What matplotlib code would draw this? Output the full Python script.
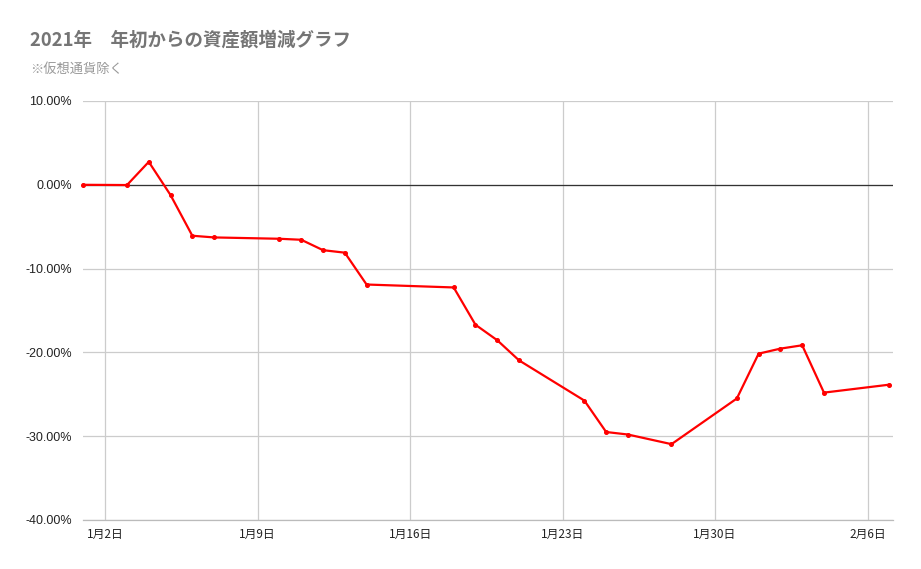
import matplotlib
matplotlib.use("Agg")
import matplotlib.pyplot as plt
import matplotlib.dates as mdates
from matplotlib.ticker import FuncFormatter, MultipleLocator
import datetime as dt

plt.rcParams['font.family'] = ['Liberation Sans', 'Noto Sans CJK JP', 'DejaVu Sans']

dates = ["2021-01-01", "2021-01-03", "2021-01-04", "2021-01-05", "2021-01-06",
         "2021-01-07", "2021-01-10", "2021-01-11", "2021-01-12", "2021-01-13",
         "2021-01-14", "2021-01-18", "2021-01-19", "2021-01-20", "2021-01-21",
         "2021-01-24", "2021-01-25", "2021-01-26", "2021-01-28", "2021-01-31",
         "2021-02-01", "2021-02-02", "2021-02-03", "2021-02-04", "2021-02-07"]
values = [0.00, -0.03, 2.74, -1.23, -6.08,
          -6.28, -6.44, -6.56, -7.80, -8.10,
          -11.90, -12.25, -16.70, -18.55, -20.95,
          -25.75, -29.50, -29.80, -30.95, -25.50,
          -20.15, -19.55, -19.15, -24.80, -23.85]
tick_dates = ["2021-01-02", "2021-01-09", "2021-01-16", "2021-01-23", "2021-01-30", "2021-02-06"]
tick_labels = ["1月2日", "1月9日", "1月16日", "1月23日", "1月30日", "2月6日"]

title = "2021年\u3000年初からの資産額増減グラフ"
subtitle = "※仮想通貨除く"

x = [dt.datetime.strptime(d, "%Y-%m-%d") for d in dates]
xt = [dt.datetime.strptime(d, "%Y-%m-%d") for d in tick_dates]

fig = plt.figure(figsize=(9.21, 5.69), dpi=100)
ax = fig.add_axes([83/921, 1-520/569, (893-83)/921, (520-101)/569])

ax.plot(x, values, color='#ff0000', linewidth=1.6, marker='o', markersize=2.6,
        zorder=3, clip_on=False)
ax.axhline(0, color='#333333', linewidth=0.9, zorder=2)

start = dt.datetime(2021, 1, 1)
ax.set_xlim(start - dt.timedelta(days=0.02), start + dt.timedelta(days=37.17))
ax.set_ylim(-40, 10)
ax.yaxis.set_major_locator(MultipleLocator(10))
ax.yaxis.set_major_formatter(FuncFormatter(lambda v, p: f"{v:.2f}%"))
ax.set_xticks(xt)
ax.set_xticklabels(tick_labels, family=['Noto Sans CJK JP', 'DejaVu Sans'], fontsize=8.5, color='#222222')
for lab in ax.get_yticklabels():
    lab.set_fontsize(9)
    lab.set_color('#222222')

ax.grid(True, color='#cccccc', linewidth=0.9, zorder=0)
ax.set_axisbelow(True)
for s in ['top', 'right', 'left']:
    ax.spines[s].set_visible(False)
ax.spines['bottom'].set_color('#bbbbbb')
ax.spines['bottom'].set_linewidth(0.9)
ax.tick_params(axis='both', length=0)
ax.tick_params(axis='y', pad=8)
ax.tick_params(axis='x', pad=6)

fig.text(30/921, 1-40/569, title, fontsize=13.3, fontweight='bold', color='#757575',
         family=['Noto Sans CJK JP', 'DejaVu Sans'], va='center', ha='left')
fig.text(30/921, 1-69/569, subtitle, fontsize=9.5, color='#999999',
         family=['Noto Sans CJK JP', 'DejaVu Sans'], va='center', ha='left')

fig.savefig("out.png", dpi=100)
